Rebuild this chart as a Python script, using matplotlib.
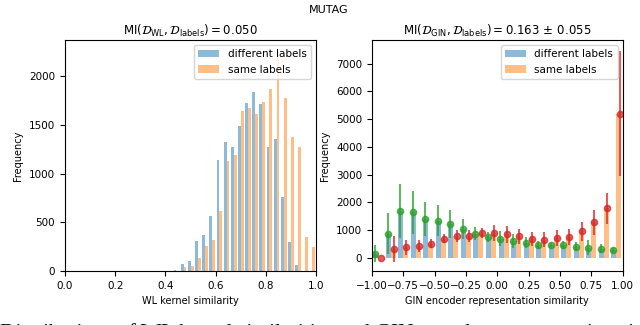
import numpy as np
import matplotlib
matplotlib.use("Agg")
import matplotlib.pyplot as plt

# Dados
# Painel esquerdo: histograma da similaridade WL (20 bins)
wl_edges = np.linspace(0.43, 1.0, 21)
wl_diff = [15, 70, 100, 305, 375, 565, 1140, 1330, 1280, 1490,
           1730, 1840, 1720, 1280, 1360, 760, 300, 60, 0, 0]
wl_same = [0, 40, 55, 135, 260, 315, 615, 1130, 1195, 1640,
           1680, 1610, 1740, 1870, 2250, 1775, 1375, 1280, 345, 245]

# Painel direito: média e desvio da similaridade GIN (20 bins)
gin_edges = np.linspace(-1.0, 1.0, 21)
gin_diff = [160, 880, 1695, 1645, 1405, 1345, 1220, 1040, 880, 760,
            690, 605, 545, 470, 470, 470, 400, 375, 340, 280]
gin_diff_err = [290, 725, 980, 770, 620, 560, 500, 350, 230, 190,
                270, 250, 200, 140, 80, 150, 160, 280, 150, 80]
gin_same = [0, 315, 390, 420, 520, 700, 800, 790, 900, 905,
            850, 790, 690, 655, 720, 760, 960, 1280, 1790, 5200]
gin_same_err = [0, 470, 275, 220, 160, 175, 225, 210, 190, 300,
                300, 270, 250, 270, 300, 300, 350, 440, 560, 2260]

plt.rcParams["font.size"] = 7.5

fig = plt.figure(figsize=(6.4, 3.25), dpi=100)
ax1 = fig.add_axes([0.1016, 0.166, 0.392, 0.711])
ax2 = fig.add_axes([0.581, 0.166, 0.392, 0.711])

# Esquerda
wl_centers = (wl_edges[:-1] + wl_edges[1:]) / 2
ax1.hist([wl_centers, wl_centers], bins=wl_edges, weights=[wl_diff, wl_same],
         color=["tab:blue", "tab:orange"], alpha=0.5,
         label=["different labels", "same labels"])
ax1.set_xlim(0, 1)
ax1.set_ylim(0, 2375)
ax1.set_yticks([0, 500, 1000, 1500, 2000])
ax1.set_xlabel("WL kernel similarity", fontsize=7)
ax1.set_ylabel("Frequency", fontsize=7)
ax1.set_title(r"MI$(\mathcal{D}_{\mathrm{WL}}, \mathcal{D}_{\mathrm{labels}}) = 0.050$",
              fontsize=8.5, pad=4)
ax1.legend(loc="upper right", fontsize=7.5)

# Direita
gin_centers = (gin_edges[:-1] + gin_edges[1:]) / 2
w = gin_edges[1] - gin_edges[0]
ax2.hist([gin_centers, gin_centers], bins=gin_edges, weights=[gin_diff, gin_same],
         color=["tab:blue", "tab:orange"], alpha=0.5,
         label=["different labels", "same labels"])
ax2.errorbar(gin_centers - w / 4, gin_diff, yerr=gin_diff_err, fmt="o",
             color="tab:green", ms=4.5, alpha=0.75, elinewidth=1.5, mew=1)
ax2.errorbar(gin_centers + w / 4, gin_same, yerr=gin_same_err, fmt="o",
             color="tab:red", ms=4.5, alpha=0.75, elinewidth=1.5, mew=1)
ax2.set_xlim(-1, 1)
ax2.set_ylim(-470, 7850)
ax2.set_xticks(np.linspace(-1, 1, 9))
ax2.set_xlabel("GIN encoder representation similarity", fontsize=7)
ax2.set_ylabel("Frequency", fontsize=7)
ax2.set_title(r"MI$(\mathcal{D}_{\mathrm{GIN}}, \mathcal{D}_{\mathrm{labels}}) = 0.163\,\pm\,0.055$",
              fontsize=8.5, pad=4)
ax2.legend(loc="upper right", fontsize=7.5)

fig.suptitle("MUTAG", x=0.514, y=0.985, fontsize=8)

# Legenda da figura (só a parte de cima aparece na borda inferior)
fig.text(0.0, 0.006, "Distributions of WL kernel similarities and GIN encoder representation similarities",
         family="Liberation Serif", fontsize=15.5, va="top", ha="left")

fig.savefig("out.png", dpi=100)
